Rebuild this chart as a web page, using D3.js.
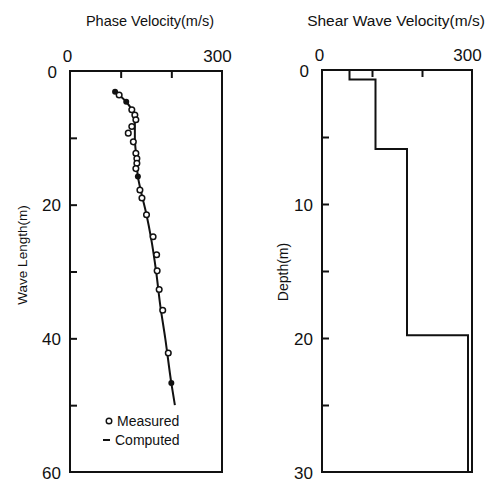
<!DOCTYPE html>
<html>
<head>
<meta charset="utf-8">
<script src="https://cdn.jsdelivr.net/npm/d3@7"></script>
<style>
  body { margin: 0; background: #fff; }
  text { font-family: "Liberation Sans", Arial, sans-serif; fill: #111; }
</style>
</head>
<body>
<div id="chart"></div>
<script>
// measured dispersion points: wavelength (m) and phase velocity (m/s)
const measWave = [3.6, 5.8, 6.6, 7.3, 8.3, 9.3, 10.6, 12.3, 13.1, 13.8, 14.6, 17.8, 19.0, 21.5, 24.8, 27.5, 29.9, 32.7, 35.8, 42.2];
const measVel  = [97, 122, 128, 130, 122, 115, 125, 130, 132, 132, 130, 138, 142, 151, 164, 171, 172, 176, 183, 194];

// computed dispersion curve
const compWave = [3.1, 4.6, 6.0, 7.5, 10, 13, 15.8, 18, 21.5, 25, 30, 35, 40, 46.7, 50];
const compVel  = [89, 111, 123, 128, 128, 131, 134, 140, 151, 160, 170, 178, 188, 200, 207];
// filled markers sitting on the computed curve
const dotWave = [3.1, 4.6, 15.8, 46.7];
const dotVel  = [89, 111, 134, 200];

// shear wave velocity profile
const layerTop = [0, 0.7, 5.9, 19.8];
const layerVel = [55, 107, 170, 292];
const profileBottom = 30;

const svg = d3.select("#chart").append("svg")
  .attr("width", 497)
  .attr("height", 483);

const xL = d3.scaleLinear().domain([0, 300]).range([70, 222]);
const yL = d3.scaleLinear().domain([0, 60]).range([71, 472]);
const xR = d3.scaleLinear().domain([0, 300]).range([322, 472]);
const yR = d3.scaleLinear().domain([0, 30]).range([70, 472]);

function drawFrame(x, y, opts) {
  const [x0, x1] = x.range();
  const [y0, y1] = y.range();
  const g = svg.append("g");

  g.append("rect")
    .attr("x", x0).attr("y", y0)
    .attr("width", x1 - x0).attr("height", y1 - y0)
    .attr("fill", "none")
    .attr("stroke", "#111")
    .attr("stroke-width", 2);

  // inner ticks on top
  g.append("g")
    .attr("transform", `translate(0,${y0})`)
    .call(d3.axisBottom(x).tickValues([100, 200]).tickSize(7).tickFormat(""))
    .call(s => s.select(".domain").remove())
    .call(s => s.selectAll("line").attr("stroke", "#111").attr("stroke-width", 2));

  // inner ticks on left
  g.append("g")
    .attr("transform", `translate(${x0},0)`)
    .call(d3.axisRight(y).tickValues(opts.yTicks).tickSize(7).tickFormat(""))
    .call(s => s.select(".domain").remove())
    .call(s => s.selectAll("line").attr("stroke", "#111").attr("stroke-width", 2));

  // top labels
  g.append("g")
    .attr("transform", `translate(0,${y0 - 9})`)
    .call(d3.axisTop(x).tickValues([0, 300]).tickSize(0).tickPadding(0))
    .call(s => s.select(".domain").remove())
    .call(s => s.selectAll("text")
      .attr("font-size", 17)
      .attr("dx", d => d === 0 ? -3 : -5));

  // left labels
  g.append("g")
    .attr("transform", `translate(${x0 - 9},0)`)
    .call(d3.axisLeft(y).tickValues(opts.yLabels).tickSize(0).tickPadding(0))
    .call(s => s.select(".domain").remove())
    .call(s => s.selectAll("text")
      .attr("font-size", 17)
      .attr("dy", "0.36em")
      .attr("dx", d => d === 0 ? -4 : 0));

  g.append("text")
    .attr("x", opts.titleX).attr("y", 26)
    .attr("text-anchor", "middle")
    .attr("font-size", opts.titleSize)
    .text(opts.title);

  g.append("text")
    .attr("transform", `translate(${opts.yTitleX},${opts.yTitleY}) rotate(-90)`)
    .attr("text-anchor", "middle")
    .attr("font-size", opts.yTitleSize)
    .text(opts.yTitle);
}

drawFrame(xL, yL, {
  yTicks: [10, 20, 30, 40, 50],
  yLabels: [0, 20, 40, 60],
  title: "Phase Velocity(m/s)",
  titleX: 150,
  titleSize: 14.5,
  yTitle: "Wave Length(m)",
  yTitleX: 27,
  yTitleY: 255,
  yTitleSize: 13.5
});

drawFrame(xR, yR, {
  yTicks: [5, 10, 15, 20, 25],
  yLabels: [0, 10, 20, 30],
  title: "Shear Wave Velocity(m/s)",
  titleX: 396,
  titleSize: 15.5,
  yTitle: "Depth(m)",
  yTitleX: 288,
  yTitleY: 272,
  yTitleSize: 14
});

// computed curve
const comp = compWave.map((w, i) => [compVel[i], w]);
svg.append("path")
  .datum(comp)
  .attr("fill", "none")
  .attr("stroke", "#111")
  .attr("stroke-width", 2)
  .attr("d", d3.line().x(d => xL(d[0])).y(d => yL(d[1])).curve(d3.curveMonotoneY));

svg.selectAll("circle.dot")
  .data(dotWave.map((w, i) => [dotVel[i], w]))
  .enter().append("circle")
  .attr("class", "dot")
  .attr("cx", d => xL(d[0]))
  .attr("cy", d => yL(d[1]))
  .attr("r", 3)
  .attr("fill", "#111");

svg.selectAll("circle.meas")
  .data(measWave.map((w, i) => [measVel[i], w]))
  .enter().append("circle")
  .attr("class", "meas")
  .attr("cx", d => xL(d[0]))
  .attr("cy", d => yL(d[1]))
  .attr("r", 2.8)
  .attr("fill", "#fff")
  .attr("stroke", "#111")
  .attr("stroke-width", 1.5);

// legend
svg.append("circle")
  .attr("cx", 109).attr("cy", 421)
  .attr("r", 2.8)
  .attr("fill", "#fff").attr("stroke", "#111").attr("stroke-width", 1.4);
svg.append("text")
  .attr("x", 117).attr("y", 426)
  .attr("font-size", 14)
  .text("Measured");
svg.append("line")
  .attr("x1", 103).attr("x2", 110)
  .attr("y1", 440).attr("y2", 440)
  .attr("stroke", "#111").attr("stroke-width", 2);
svg.append("text")
  .attr("x", 115).attr("y", 445)
  .attr("font-size", 14)
  .text("Computed");

// velocity profile as steps
const steps = [];
layerTop.forEach((t, i) => {
  const b = i < layerTop.length - 1 ? layerTop[i + 1] : profileBottom;
  steps.push([layerVel[i], t], [layerVel[i], b]);
});
svg.append("path")
  .datum(steps)
  .attr("fill", "none")
  .attr("stroke", "#111")
  .attr("stroke-width", 2)
  .attr("d", d3.line().x(d => xR(d[0])).y(d => yR(d[1])));
</script>
</body>
</html>
